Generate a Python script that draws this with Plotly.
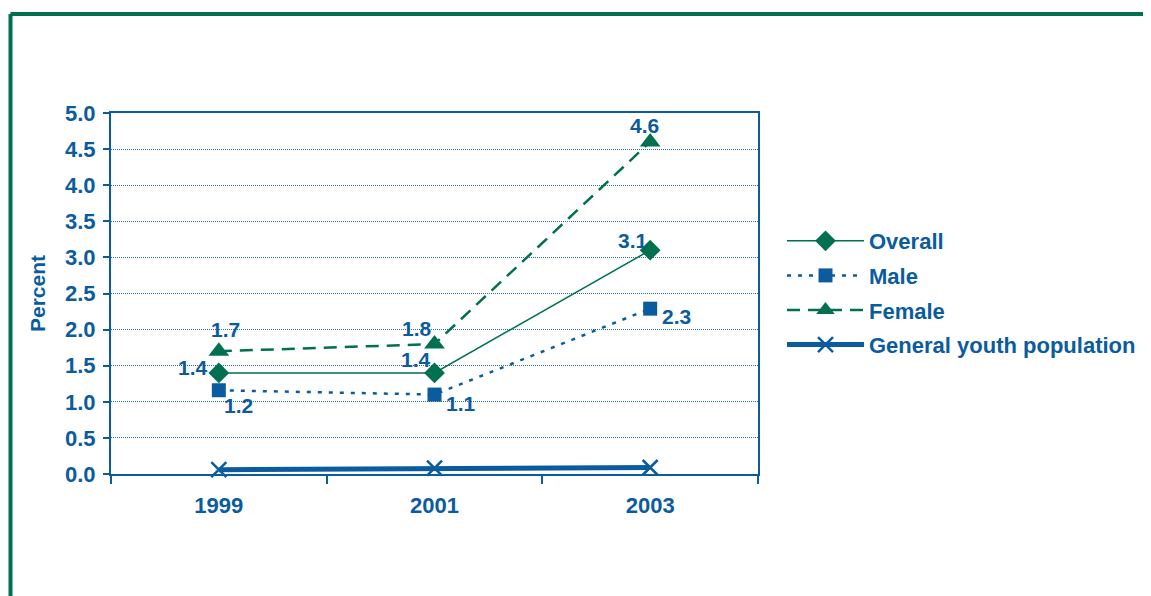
import plotly.graph_objects as go

years = ["1999", "2001", "2003"]
overall = [1.4, 1.4, 3.1]
male = [1.16, 1.1, 2.29]
female = [1.7, 1.8, 4.6]
general = [0.06, 0.08, 0.09]

overall_labels = ["1.4", "1.4", "3.1"]
male_labels = ["1.2", "1.1", "2.3"]
female_labels = ["1.7", "1.8", "4.6"]

y_ticks = [0.0, 0.5, 1.0, 1.5, 2.0, 2.5, 3.0, 3.5, 4.0, 4.5, 5.0]

# label offsets (pixels, style only)
overall_shift = [(-26, 5), (-19, 13), (-17, 10)]
male_shift = [(20, -15), (26, -9), (26, -8)]
female_shift = [(7, 22), (-18, 16), (-6, 16)]

BLUE = "#0b5c9e"
GREEN = "#00704f"
FONT = "Liberation Sans"

fig = go.Figure()

fig.add_trace(go.Scatter(
    x=years, y=overall, name="<b>Overall</b>", mode="lines+markers",
    line=dict(color=GREEN, width=1.5),
    marker=dict(symbol="diamond", size=16, color=GREEN),
    cliponaxis=False, legendgroup="a",
))
fig.add_trace(go.Scatter(
    x=years, y=male, name="<b>Male</b>", mode="lines+markers",
    line=dict(color=BLUE, width=2.5, dash="4px,7px"),
    marker=dict(symbol="square", size=14, color=BLUE),
    cliponaxis=False, legendgroup="b",
))
fig.add_trace(go.Scatter(
    x=years, y=female, name="<b>Female</b>", mode="lines+markers",
    line=dict(color=GREEN, width=2.5, dash="13px,8px"),
    marker=dict(symbol="triangle-up", size=18, color=GREEN),
    cliponaxis=False, legendgroup="c",
))
fig.add_trace(go.Scatter(
    x=years, y=general, name="<b>General youth population</b>", mode="lines+markers",
    line=dict(color=BLUE, width=5),
    marker=dict(symbol="x-thin", size=15, color=BLUE, line=dict(color=BLUE, width=2.5)),
    cliponaxis=False, legendgroup="d",
))

annotations = []
for vals, labels, shifts in [(overall, overall_labels, overall_shift),
                             (male, male_labels, male_shift),
                             (female, female_labels, female_shift)]:
    for i, (yv, lab, (dx, dy)) in enumerate(zip(vals, labels, shifts)):
        annotations.append(dict(
            x=i, y=yv, xref="x", yref="y", text=f"<b>{lab}</b>",
            showarrow=False, xanchor="center", yanchor="middle",
            xshift=dx, yshift=dy,
            font=dict(size=21, color=BLUE, family=FONT),
        ))

# page body has an 8px offset
OFF = 8
ml, mt = 111 - OFF, 113 - OFF
pw, ph = 647, 361
W, H = 1151 - OFF, 596 - OFF
mr = W - ml - pw
mb = H - mt - ph

def px(xp):
    return (xp - OFF - ml) / pw

def py(yp):
    return 1 - (yp - OFF - mt) / ph

fig.update_layout(
    width=W, height=H,
    margin=dict(l=ml, r=mr, t=mt, b=mb, autoexpand=False),
    paper_bgcolor="white", plot_bgcolor="white",
    font=dict(family=FONT, color=BLUE, size=22),
    showlegend=True,
    annotations=annotations,
    legend=dict(
        x=px(782), xanchor="left",
        y=py(220), yanchor="top",
        font=dict(size=22, color=BLUE, family=FONT),
        traceorder="grouped", tracegroupgap=3, itemwidth=77,
        bgcolor="rgba(0,0,0,0)", borderwidth=0,
    ),
    xaxis=dict(
        type="category", range=[-0.5, 2.5],
        tickson="boundaries", ticks="outside", ticklen=8, tickwidth=2, tickcolor=BLUE,
        showline=True, linecolor=BLUE, linewidth=2, mirror=True,
        showgrid=False, zeroline=False,
        tickfont=dict(size=22, color=BLUE, family=FONT),
        ticktext=[f"<b>{y}</b>" for y in years], tickvals=years,
        ticklabelstandoff=11,
    ),
    yaxis=dict(
        range=[0, 5], tickvals=y_ticks,
        ticktext=[f"<b>{v:.1f}</b>" for v in y_ticks],
        ticks="outside", ticklen=6, tickwidth=2, tickcolor=BLUE,
        showline=True, linecolor=BLUE, linewidth=2, mirror=True,
        showgrid=True, gridcolor="#2a70b0", gridwidth=1, griddash="1px,1px",
        zeroline=False,
        tickfont=dict(size=22, color=BLUE, family=FONT),
        ticklabelstandoff=3,
        title=dict(text="<b>Percent</b>", font=dict(size=21, color=BLUE, family=FONT), standoff=14),
        automargin=False,
    ),
    shapes=[
        dict(type="line", xref="paper", yref="paper",
             x0=px(10.5), x1=px(10.5), y0=py(14), y1=py(620),
             line=dict(color=GREEN, width=4)),
        dict(type="line", xref="paper", yref="paper",
             x0=px(10.5), x1=px(1170), y0=py(14), y1=py(14),
             line=dict(color=GREEN, width=4)),
    ],
)

fig.write_html("out.html")
